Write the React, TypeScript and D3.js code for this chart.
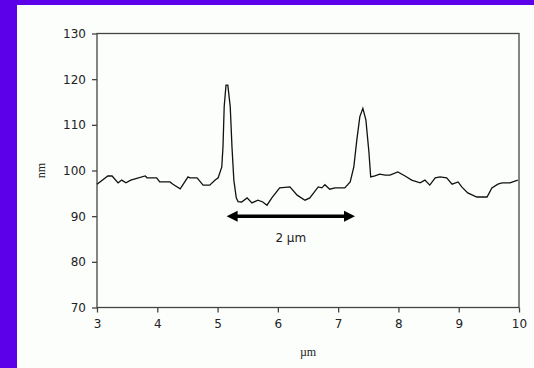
import React, { useEffect, useRef } from 'react';
import * as d3 from 'd3';

// profile: position (µm) and height (nm)
const xs_um: number[] = [3.00, 3.18, 3.25, 3.35, 3.41, 3.48, 3.56, 3.80, 3.83, 3.99, 4.04, 4.21, 4.26, 4.38, 4.51, 4.54, 4.66, 4.76, 4.87, 4.96,
  5.01, 5.07, 5.09, 5.11, 5.14, 5.17, 5.21, 5.24, 5.27, 5.31, 5.34, 5.40, 5.49, 5.57, 5.67, 5.75, 5.82, 5.90, 6.03, 6.20,
  6.32, 6.45, 6.53, 6.67, 6.73, 6.78, 6.86, 6.95, 7.11, 7.20, 7.26, 7.31, 7.36, 7.41, 7.46, 7.51, 7.54, 7.61, 7.69, 7.78,
  7.86, 7.99, 8.11, 8.22, 8.36, 8.44, 8.52, 8.61, 8.69, 8.80, 8.89, 8.99, 9.05, 9.15, 9.30, 9.47, 9.55, 9.65, 9.72, 9.85, 9.98];
const heights_nm: number[] = [97.0, 98.8, 98.8, 97.3, 97.9, 97.3, 97.9, 98.8, 98.4, 98.4, 97.5, 97.5, 97.0, 96.0, 98.6, 98.4, 98.4, 96.8, 96.8, 97.9,
  98.4, 100.8, 105.2, 114.0, 118.7, 118.7, 114.0, 104.9, 97.9, 94.0, 93.2, 93.1, 94.0, 92.9, 93.5, 93.1, 92.4, 94.0, 96.2, 96.4,
  94.6, 93.5, 94.0, 96.4, 96.2, 96.9, 95.9, 96.2, 96.2, 97.5, 100.8, 106.7, 111.8, 113.6, 111.1, 104.1, 98.6, 98.8, 99.2, 99.0,
  99.0, 99.7, 98.8, 97.9, 97.3, 97.9, 96.8, 98.4, 98.6, 98.4, 97.0, 97.5, 96.4, 95.1, 94.2, 94.2, 96.2, 97.0, 97.3, 97.3, 97.9];

const x_ticks: number[] = [3, 4, 5, 6, 7, 8, 9, 10];
const y_ticks: number[] = [70, 80, 90, 100, 110, 120, 130];

// the double arrow marking the peak spacing
const arrow_x: number[] = [5.15, 7.28];
const arrow_y = 90;
const arrow_label = "2 µm";

const x_scale = d3.scaleLinear().domain([3, 10]).range([97, 519]);
const y_scale = d3.scaleLinear().domain([70, 130]).range([307.5, 33.5]);

export default function App() {
  const ref = useRef<SVGSVGElement>(null);

  useEffect(() => {
    const svg = d3.select(ref.current);
    svg.selectAll("*").remove();

    svg.append("rect").attr("width", 534).attr("height", 368).attr("fill", "#5b00e8");
    svg.append("rect").attr("x", 17).attr("y", 5).attr("width", 517).attr("height", 363).attr("fill", "#fcfefc");

    const axisColor = "#444";
    const tickFont = "'DejaVu Sans', Verdana, sans-serif";

    // frame
    svg.append("rect")
      .attr("x", x_scale(3)).attr("y", y_scale(130))
      .attr("width", x_scale(10) - x_scale(3)).attr("height", y_scale(70) - y_scale(130))
      .attr("fill", "none").attr("stroke", axisColor).attr("stroke-width", 1.3);

    const xAxis = svg.append("g").attr("transform", `translate(0,${y_scale(70)})`)
      .call(d3.axisBottom(x_scale).tickValues(x_ticks).tickSize(5).tickPadding(7).tickFormat(d3.format("d")));
    const yAxis = svg.append("g").attr("transform", `translate(${x_scale(3)},0)`)
      .call(d3.axisLeft(y_scale).tickValues(y_ticks).tickSize(5).tickPadding(6).tickFormat(d3.format("d")));

    [xAxis, yAxis].forEach(a => {
      a.select(".domain").remove();
      a.selectAll("line").attr("stroke", axisColor).attr("stroke-width", 1.3);
      a.selectAll("text").attr("font-family", tickFont).attr("font-size", 12).attr("fill", "#222");
    });

    svg.append("text")
      .attr("x", 308).attr("y", 356)
      .attr("text-anchor", "middle")
      .attr("font-family", "'Liberation Serif', serif").attr("font-size", 12).attr("fill", "#222")
      .text("µm");

    svg.append("text")
      .attr("transform", `translate(45,${y_scale(100)}) rotate(-90)`)
      .attr("text-anchor", "middle")
      .attr("font-family", "'Liberation Serif', serif").attr("font-size", 12).attr("fill", "#222")
      .text("nm");

    const line = d3.line<number>()
      .x((d, i) => x_scale(xs_um[i]))
      .y(d => y_scale(d));

    svg.append("path")
      .datum(heights_nm)
      .attr("d", line)
      .attr("fill", "none")
      .attr("stroke", "#111")
      .attr("stroke-width", 1.3);

    // double headed arrow
    const ax0 = x_scale(arrow_x[0]);
    const ax1 = x_scale(arrow_x[1]);
    const ay = y_scale(arrow_y);
    const head = 11;
    svg.append("line")
      .attr("x1", ax0 + head - 2).attr("x2", ax1 - head + 2)
      .attr("y1", ay).attr("y2", ay)
      .attr("stroke", "#000").attr("stroke-width", 3.5);
    svg.append("path")
      .attr("d", `M${ax0},${ay} L${ax0 + head},${ay - 5.5} L${ax0 + head},${ay + 5.5} Z`)
      .attr("fill", "#000");
    svg.append("path")
      .attr("d", `M${ax1},${ay} L${ax1 - head},${ay - 5.5} L${ax1 - head},${ay + 5.5} Z`)
      .attr("fill", "#000");

    svg.append("text")
      .attr("x", (ax0 + ax1) / 2).attr("y", ay + 26)
      .attr("text-anchor", "middle")
      .attr("font-family", tickFont).attr("font-size", 12).attr("fill", "#222")
      .text(arrow_label);
  }, []);

  return (
    <svg ref={ref} width={534} height={368}
      style={{ position: 'absolute', left: 0, top: 0 }} />
  );
}
